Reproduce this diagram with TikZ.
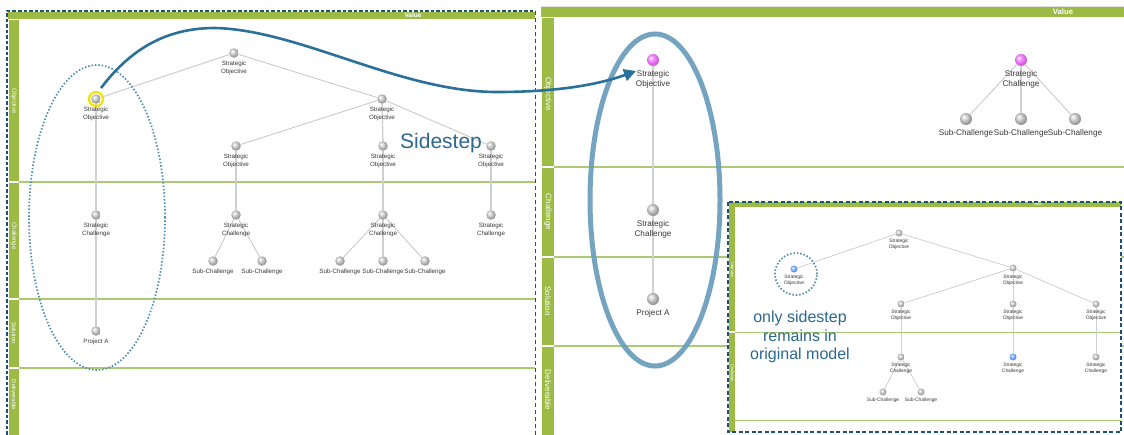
\documentclass[tikz,border=0pt]{standalone}
\usepackage{fontspec}
\setmainfont{Liberation Sans}
\usetikzlibrary{arrows.meta,shapes.geometric}
\definecolor{barc}{HTML}{9BBB45}
\definecolor{lanec}{HTML}{AACB72}
\definecolor{dashc}{HTML}{1F4F7A}
\definecolor{arrowc}{HTML}{2A7099}
\definecolor{dottedc}{HTML}{4D8DB5}
\definecolor{thickc}{HTML}{6A9DBC}
\definecolor{txtblue}{HTML}{2C6890}
\definecolor{pinkc}{HTML}{EA6CF6}
\definecolor{bluec}{HTML}{6A9CF4}
\definecolor{edgec}{HTML}{C6C6C6}
\definecolor{ringc}{HTML}{F2E400}
\pgfdeclareradialshading{gball}{\pgfpoint{-10bp}{10bp}}{color(0bp)=(white); color(9bp)=(black!14); color(18bp)=(black!30); color(25bp)=(black!40); color(50bp)=(black!55)}
\pgfdeclareradialshading{pball}{\pgfpoint{-10bp}{10bp}}{color(0bp)=(white); color(9bp)=(pinkc!65!white); color(18bp)=(pinkc); color(25bp)=(pinkc!88!black); color(50bp)=(pinkc!65!black)}
\pgfdeclareradialshading{bball}{\pgfpoint{-10bp}{10bp}}{color(0bp)=(white); color(9bp)=(bluec!60!white); color(18bp)=(bluec); color(25bp)=(bluec!88!black); color(50bp)=(bluec!65!black)}
\pgfdeclarelayer{bg}
\pgfdeclarelayer{edgel}
\pgfsetlayers{bg,edgel,main}
\begin{document}
\begin{tikzpicture}[x=1pt,y=-1pt,
  gdot/.style={circle, inner sep=0pt, minimum size=9.5pt, shading=gball},
  gdotR/.style={gdot, minimum size=12pt},
  gdotI/.style={gdot, minimum size=7pt},
  pdot/.style={circle, inner sep=0pt, minimum size=12pt, shading=pball},
  bdot/.style={circle, inner sep=0pt, minimum size=7pt, shading=bball},
  lbl/.style={inner sep=0pt, align=center, text=black!78, font=\fontsize{6.2}{7.7}\selectfont},
  lblR/.style={lbl, font=\fontsize{8.2}{10}\selectfont},
  lblI/.style={lbl, font=\fontsize{4.9}{6}\selectfont},
  edge/.style={draw=edgec, line width=0.8pt},
  vedge/.style={draw=edgec!85, line width=1.3pt},
  laneline/.style={draw=lanec, line width=1.3pt},
  lanetxt/.style={text=white, rotate=-90, inner sep=0pt, font=\fontsize{6}{7}\selectfont},
  valtxt/.style={text=white, inner sep=0pt, font=\bfseries\fontsize{6.5}{7}\selectfont},
  dotline/.style={draw=dottedc, line width=1.7pt, dash pattern=on 1.5pt off 1.9pt},
]
\useasboundingbox (0,0) rectangle (1124,434);
\clip (0,0) rectangle (1124,434);

\begin{pgfonlayer}{bg}
\fill[white] (0,0) rectangle (1124,434);
% ---------- left panel ----------
\fill[barc] (8,12) rectangle (535,19);
\fill[barc] (9,20) rectangle (19,181);
\fill[barc] (9,183) rectangle (19,298);
\fill[barc] (9,300) rectangle (19,367);
\fill[barc] (9,369) rectangle (19,440);
\draw[laneline] (19,182) -- (535,182);
\draw[laneline] (19,299) -- (535,299);
\draw[laneline] (19,368) -- (535,368);
\draw[dashc, line width=1.8pt, dash pattern=on 3.5pt off 2pt] (7,440) -- (7,11) -- (535,11);
\draw[dashc, line width=1pt, dash pattern=on 4pt off 3pt] (535,11) -- (535,440);
% ---------- right panel ----------
\draw[black!12, line width=0.6pt] (541,6) -- (1124,6);
\fill[barc] (541,7) rectangle (1124,17);
\fill[barc] (542,18) rectangle (554,166);
\fill[barc] (542,168) rectangle (554,256);
\fill[barc] (542,258) rectangle (554,345);
\fill[barc] (542,347) rectangle (554,440);
\draw[laneline] (554,167) -- (1124,167);
\draw[laneline] (554,257) -- (1124,257);
\draw[laneline] (554,346) -- (1124,346);
% ---------- inner panel ----------
\fill[white] (728,202) rectangle (1121,432);
\fill[barc] (729,202) rectangle (1121,207);
\fill[barc] (729,207) rectangle (735,331);
\fill[barc] (729,333) rectangle (735,432);
\draw[lanec, line width=1pt] (735,332) -- (1121,332);
\draw[lanec, line width=1pt] (735,420) -- (1121,420);
\draw[dashc, line width=2pt, dash pattern=on 4pt off 2.5pt] (728,202) rectangle (1121,432);
\end{pgfonlayer}

% lane labels
\node[valtxt] (lval) at (413,15.5) {Value};
\node[lanetxt] (lobj) at (14,101) {Objective};
\node[lanetxt] (lcha) at (14,236) {Challenge};
\node[lanetxt] (lsol) at (14,333) {Solution};
\node[lanetxt] (ldel) at (14,395) {Deliverable};
\node[valtxt, font=\bfseries\fontsize{7.7}{8}\selectfont] (rval) at (1063,12) {Value};
\node[lanetxt, font=\fontsize{8}{9}\selectfont] (robj) at (548,94) {Objective};
\node[lanetxt, font=\fontsize{8}{9}\selectfont] (rcha) at (548,212) {Challenge};
\node[lanetxt, font=\fontsize{8}{9}\selectfont] (rsol) at (548,301) {Solution};
\node[lanetxt, font=\fontsize{8}{9}\selectfont] (rdel) at (548,390) {Deliverable};
\node[valtxt, font=\fontsize{3.6}{4}\selectfont] (ival) at (1038,204.6) {Value};
\node[lanetxt, font=\fontsize{3.8}{4}\selectfont] (iobj) at (732,270) {Objective};
\node[lanetxt, font=\fontsize{3.8}{4}\selectfont] (icha) at (732,373) {Challenge};

% ---------- left panel nodes ----------
\node[circle, inner sep=0pt, minimum size=14pt, draw=ringc, line width=2.2pt] (lso1r) at (96,99) {};
\node[gdot] (lso1) at (96,99) {};
\node[gdot] (lsotop) at (234,53) {};
\node[gdot] (lsomid) at (382,99) {};
\node[gdot] (lso2) at (236,146) {};
\node[gdot] (lso3) at (383,146) {};
\node[gdot] (lso4) at (491,146) {};
\node[gdot] (lsc1) at (96,215) {};
\node[gdot] (lsc2) at (236,215) {};
\node[gdot] (lsc3) at (383,215) {};
\node[gdot] (lsc4) at (491,215) {};
\node[gdot] (lsub1) at (213,261) {};
\node[gdot] (lsub2) at (262,261) {};
\node[gdot] (lsub3) at (340,261) {};
\node[gdot] (lsub4) at (383,261) {};
\node[gdot] (lsub5) at (425,261) {};
\node[gdot] (lpa) at (96,331) {};

\node[lbl] (lso1t) at (96,114) {Strategic\\Objective};
\node[lbl] (lsotopt) at (234,68) {Strategic\\Objective};
\node[lbl] (lsomidt) at (382,114) {Strategic\\Objective};
\node[lbl] (lso2t) at (236,161) {Strategic\\Objective};
\node[lbl] (lso3t) at (383,161) {Strategic\\Objective};
\node[lbl] (lso4t) at (491,161) {Strategic\\Objective};
\node[lbl] (lsc1t) at (96,230) {Strategic\\Challenge};
\node[lbl] (lsc2t) at (236,230) {Strategic\\Challenge};
\node[lbl] (lsc3t) at (383,230) {Strategic\\Challenge};
\node[lbl] (lsc4t) at (491,230) {Strategic\\Challenge};
\node[lbl] (lsub1t) at (213,272) {Sub-Challenge};
\node[lbl] (lsub2t) at (262,272) {Sub-Challenge};
\node[lbl] (lsub3t) at (340,272) {Sub-Challenge};
\node[lbl] (lsub4t) at (383,272) {Sub-Challenge};
\node[lbl] (lsub5t) at (425,272) {Sub-Challenge};
\node[lbl] (lpat) at (96,342) {Project A};

% ---------- right panel nodes ----------
\node[pdot] (rso) at (653,60) {};
\node[gdotR] (rsc) at (653,210) {};
\node[gdotR] (rpa) at (653,299) {};
\node[lblR] (rsot) at (653,79) {Strategic\\Objective};
\node[lblR] (rsct) at (653,229) {Strategic\\Challenge};
\node[lblR] (rpat) at (653,313) {Project A};
\node[pdot] (rch) at (1021,60) {};
\node[gdotR] (rsub1) at (966,119) {};
\node[gdotR] (rsub2) at (1021,119) {};
\node[gdotR] (rsub3) at (1075,119) {};
\node[lblR] (rcht) at (1021,79) {Strategic\\Challenge};
\node[lblR] (rsub1t) at (966,133) {Sub-Challenge};
\node[lblR] (rsub2t) at (1021,133) {Sub-Challenge};
\node[lblR] (rsub3t) at (1075,133) {Sub-Challenge};

% ---------- inner panel nodes ----------
\node[gdotI] (isotop) at (899,233) {};
\node[bdot] (isob) at (794,269) {};
\node[gdotI] (isomid) at (1013,268) {};
\node[gdotI] (iso2) at (901,304) {};
\node[gdotI] (iso3) at (1013,304) {};
\node[gdotI] (iso4) at (1096,304) {};
\node[gdotI] (isc2) at (901,357) {};
\node[bdot] (isc3) at (1013,357) {};
\node[gdotI] (isc4) at (1096,357) {};
\node[gdotI] (isub1) at (883,392) {};
\node[gdotI] (isub2) at (921,392) {};
\node[lblI] (isotopt) at (899,244.5) {Strategic\\Objective};
\node[lblI] (isobt) at (794,280.5) {Strategic\\Objective};
\node[lblI] (isomidt) at (1013,280) {Strategic\\Objective};
\node[lblI] (iso2t) at (901,315.5) {Strategic\\Objective};
\node[lblI] (iso3t) at (1013,315.5) {Strategic\\Objective};
\node[lblI] (iso4t) at (1096,315.5) {Strategic\\Objective};
\node[lblI] (isc2t) at (901,368.5) {Strategic\\Challenge};
\node[lblI] (isc3t) at (1013,368.5) {Strategic\\Challenge};
\node[lblI] (isc4t) at (1096,368.5) {Strategic\\Challenge};
\node[lblI] (isub1t) at (883,400) {Sub-Challenge};
\node[lblI] (isub2t) at (921,400) {Sub-Challenge};

% ---------- edges ----------
\begin{pgfonlayer}{edgel}
\draw[edge] (lsotop) -- (lso1);
\draw[edge] (lsotop) -- (lsomid);
\draw[edge] (lsomid) -- (lso2);
\draw[edge] (lsomid) -- (lso4);
\draw[vedge] (lsomid) -- (lso3);
\draw[vedge] (lso1) -- (lsc1);
\draw[vedge] (lsc1) -- (lpa);
\draw[vedge] (lso2) -- (lsc2);
\draw[vedge] (lso3) -- (lsc3);
\draw[vedge] (lso4) -- (lsc4);
\draw[edge] (lsc2) -- (lsub1);
\draw[edge] (lsc2) -- (lsub2);
\draw[edge] (lsc3) -- (lsub3);
\draw[vedge] (lsc3) -- (lsub4);
\draw[edge] (lsc3) -- (lsub5);
\draw[draw=edgec!80, line width=2pt] (rso) -- (rsc);
\draw[draw=edgec!80, line width=2pt] (rsc) -- (rpa);
\draw[edge] (rch) -- (rsub1);
\draw[vedge, line width=1.8pt] (rch) -- (rsub2);
\draw[edge] (rch) -- (rsub3);
\draw[edge, line width=0.6pt] (isotop) -- (isob);
\draw[edge, line width=0.6pt] (isotop) -- (isomid);
\draw[edge, line width=0.6pt] (isomid) -- (iso2);
\draw[edge, line width=0.6pt] (isomid) -- (iso4);
\draw[vedge, line width=1pt] (isomid) -- (iso3);
\draw[vedge, line width=1pt] (iso2) -- (isc2);
\draw[vedge, line width=1pt] (iso3) -- (isc3);
\draw[vedge, line width=1pt] (iso4) -- (isc4);
\draw[edge, line width=0.6pt] (isc2) -- (isub1);
\draw[edge, line width=0.6pt] (isc2) -- (isub2);
\end{pgfonlayer}

% ---------- highlights ----------
\node[ellipse, dotline, minimum width=136pt, minimum height=305pt, inner sep=0pt] (lell) at (97,217.5) {};
\node[circle, dotline, minimum size=42pt, inner sep=0pt] (iring) at (796,274) {};
\node[ellipse, draw=thickc, draw opacity=0.92, line width=5pt, minimum width=130pt, minimum height=332pt, inner sep=0pt] (rell) at (655,200) {};

\node[text=txtblue, inner sep=0pt, anchor=base west, font=\fontsize{21}{25}\selectfont] (side) at (400,148) {Sidestep};
\node[text=txtblue, inner sep=0pt, align=center, font=\fontsize{16}{18.5}\selectfont] (remain) at (800,337) {only sidestep\\remains in\\original model};

% ---------- arrow ----------
\coordinate (arrs) at (101,88);
\coordinate (arre) at (636,71);
\draw[arrowc, line width=2.6pt, -{Triangle[length=12pt,width=12pt]}]
  (arrs) .. controls (130,50) and (165,28) .. (215,28)
  .. controls (300,30) and (400,92) .. (497,92)
  .. controls (560,92) and (600,84) .. (arre);
\end{tikzpicture}
\end{document}
